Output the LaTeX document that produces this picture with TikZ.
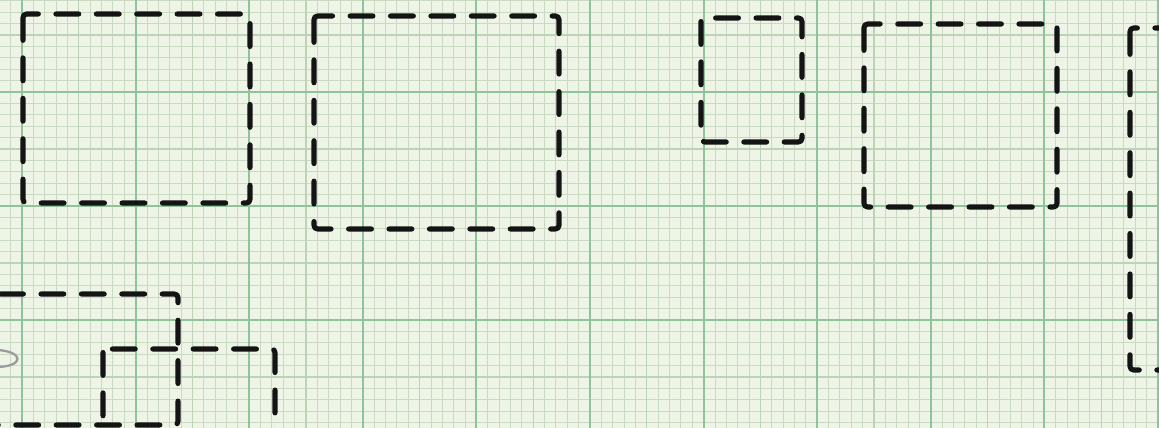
\documentclass[tikz,border=0pt]{standalone}
\usepackage{tikz}
\usetikzlibrary{calc}
\definecolor{paper}{HTML}{EFF5E6}
\definecolor{gridminor}{HTML}{C9D9C2}
\definecolor{gridmid}{HTML}{BCD3B7}
\definecolor{gridmajor}{HTML}{8FC39B}
\definecolor{ink}{HTML}{141414}
\definecolor{pencil}{HTML}{9C9C9C}

\tikzset{
  minorline/.style={gridminor, line width=0.5pt},
  midline/.style={gridmid, line width=0.6pt},
  majorline/.style={gridmajor, line width=1.1pt},
  sketchbox/.style={draw=ink, line width=2.9pt, line cap=round, line join=round, rounded corners=2pt, dash pattern=on 13pt off 10pt},
}

\begin{document}
\begin{tikzpicture}[x=0.02cm, y=-0.02cm]
  \useasboundingbox (0,0) rectangle (1159,428);
  \clip (0,0) rectangle (1159,428);
  \fill[paper] (0,0) rectangle (1159,428);

  % graph paper
  \foreach \i in {-2,...,100} {
    \draw[minorline] ({22+\i*11.36},0) -- ({22+\i*11.36},428);
  }
  \foreach \i in {-9,...,30} {
    \draw[minorline] (0,{92+\i*11.4}) -- (1159,{92+\i*11.4});
  }
  \foreach \i in {-1,...,21} {
    \draw[midline] ({22+\i*56.8},0) -- ({22+\i*56.8},428);
  }
  \foreach \i in {-2,...,6} {
    \draw[midline] (0,{92+\i*57}) -- (1159,{92+\i*57});
  }
  \foreach \i in {0,...,10} {
    \draw[majorline] ({22+\i*113.6},0) -- ({22+\i*113.6},428);
  }
  \foreach \i in {-1,...,3} {
    \draw[majorline] (0,{92+\i*114}) -- (1159,{92+\i*114});
  }

  % top row
  \draw[sketchbox] (23,14) rectangle (250,203);
  \draw[sketchbox] (314,16) rectangle (559,229);
  \draw[sketchbox] (701,18) rectangle (802,142);
  \draw[sketchbox] (864,24) rectangle (1057,207);
  \draw[sketchbox] (1130,28) rectangle (1200,370);

  % bottom left
  \draw[sketchbox] (-20,294) rectangle (178,425);
  \draw[sketchbox] (103,349) rectangle (275,460);

  % pencil mark
  \draw[pencil, line width=1.3pt] (-2,350) .. controls (24,352) and (24,366) .. (-2,367);
\end{tikzpicture}
\end{document}
